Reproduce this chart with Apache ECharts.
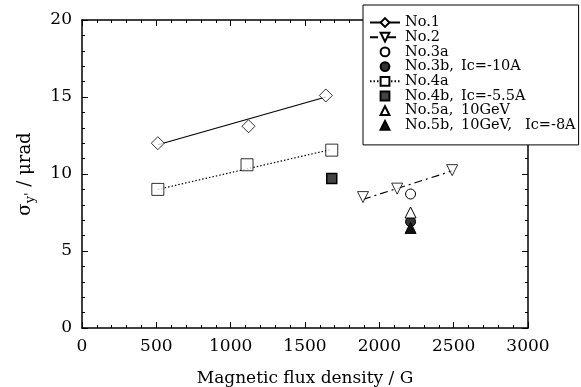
<!DOCTYPE html>
<html>
<head>
<meta charset="utf-8">
<script src="https://cdn.jsdelivr.net/npm/echarts@6/dist/echarts.min.js"></script>
<style>
  html, body { margin: 0; padding: 0; background: #fff; }
  #chart { width: 581px; height: 387px; }
</style>
</head>
<body>
<div id="chart"></div>
<script>
// values
const no1X = [510, 1120, 1640];
const no1Y = [12.0, 13.1, 15.1];
const no1FitX = [510, 1640];
const no1FitY = [11.9, 15.0];

const no2X = [1890, 2120, 2490];
const no2Y = [8.5, 9.05, 10.25];
const no2FitX = [1890, 2490];
const no2FitY = [8.35, 10.2];

const no3aX = [2210], no3aY = [8.7];
const no3bX = [2210], no3bY = [6.9];

const no4aX = [510, 1110, 1680];
const no4aY = [9.0, 10.6, 11.55];
const no4aFitX = [510, 1680];
const no4aFitY = [9.0, 11.6];

const no4bX = [1680], no4bY = [9.7];
const no5aX = [2210], no5aY = [7.5];
const no5bX = [2210], no5bY = [6.5];

const names = [
  "No.1", "No.2", "No.3a", "No.3b, Ic=-10A", "No.4a",
  "No.4b, Ic=-5.5A", "No.5a, 10GeV", "No.5b, 10GeV, Ic=-8A"
];

const pts = (xs, ys) => xs.map((x, i) => [x, ys[i]]);
const FONT = "DejaVu Serif";

// axis with inward ticks, used for all four sides
const axisBase = (pos, min, max, step, showLabel) => ({
  type: "value",
  position: pos,
  min: min,
  max: max,
  interval: step,
  axisLine: { show: true, onZero: false, lineStyle: { color: "#000", width: 1.5 } },
  axisTick: { show: true, inside: true, length: 6, lineStyle: { color: "#000", width: 1 } },
  minorTick: { show: true, splitNumber: 5, length: 3, lineStyle: { color: "#000", width: 1 } },
  splitLine: { show: false },
  minorSplitLine: { show: false },
  axisLabel: {
    show: showLabel, color: "#000", fontFamily: FONT, fontSize: 17, margin: 10,
    formatter: (v) => String(v),
  },
});

// open markers: white fill, thin black outline
const openStyle = { color: "#fff", borderColor: "#000", borderWidth: 1 };
// single points drawn as line series so the legend icon stays small
const single = (name, xs, ys, symbol, size, style) => ({
  name: name, type: "line", data: pts(xs, ys),
  symbol: symbol, symbolSize: size, showSymbol: true,
  itemStyle: style, lineStyle: { opacity: 0 }, z: 3,
});

const legendText = { fontFamily: FONT, fontSize: 14.5, color: "#000" };

const option = {
  backgroundColor: "#fff",
  animation: false,
  grid: { left: 82, right: 53, top: 20, bottom: 59, outerBoundsMode: "none" },
  legend: {
    data: names,
    orient: "vertical",
    left: 363,
    top: 5,
    padding: [10, 3, 12, 6],
    borderColor: "#000",
    borderWidth: 1,
    backgroundColor: "#fff",
    itemWidth: 30,
    itemHeight: 11,
    itemGap: -0.3,
    formatter: (name) => {
      const parts = name.split(", ");
      return parts
        .map((p, i) => (i < parts.length - 1 ? "{c" + i + "|" + p + ",}" : "{t|" + p + "}"))
        .join("");
    },
    textStyle: Object.assign({}, legendText, {
      rich: {
        c0: Object.assign({ width: 56 }, legendText),
        c1: Object.assign({ width: 64 }, legendText),
        t: Object.assign({}, legendText),
      },
    }),
  },
  xAxis: [
    Object.assign(axisBase("bottom", 0, 3000, 500, true), {
      name: "Magnetic flux density / G",
      nameLocation: "middle",
      nameGap: 42,
      nameTextStyle: { color: "#000", fontFamily: FONT, fontSize: 17 },
    }),
    axisBase("top", 0, 3000, 500, false),
  ],
  yAxis: [
    Object.assign(axisBase("left", 0, 20, 5, true), {
      name: "{a|σ}{s|y'}{a| / μrad}",
      nameLocation: "middle",
      nameGap: 45,
      nameRotate: 90,
      nameTextStyle: {
        color: "#000",
        fontFamily: FONT,
        fontSize: 18,
        rich: {
          a: { fontFamily: FONT, fontSize: 18, color: "#000", lineHeight: 24, verticalAlign: "middle" },
          s: { fontFamily: FONT, fontSize: 13, color: "#000", lineHeight: 24, verticalAlign: "bottom", padding: [10, 0, 0, 0] },
        },
      },
    }),
    axisBase("right", 0, 20, 5, false),
  ],
  series: [
    {
      name: "No.1", type: "line", data: pts(no1FitX, no1FitY),
      symbol: "diamond", showSymbol: false, symbolSize: 12,
      itemStyle: openStyle, lineStyle: { color: "#000", width: 1.2 },
    },
    {
      name: "No.1 pts", type: "scatter", data: pts(no1X, no1Y),
      symbol: "diamond", symbolSize: 13, itemStyle: openStyle, z: 3,
    },
    {
      name: "No.2", type: "line", data: pts(no2FitX, no2FitY),
      symbol: "triangle", symbolRotate: 180, showSymbol: false, symbolSize: 11,
      itemStyle: openStyle, lineStyle: { color: "#000", width: 1.2, type: [8, 4, 2, 4] },
    },
    {
      name: "No.2 pts", type: "scatter", data: pts(no2X, no2Y),
      symbol: "triangle", symbolRotate: 180, symbolSize: 11, itemStyle: openStyle, z: 3,
    },
    single("No.3a", no3aX, no3aY, "circle", 10, openStyle),
    single(names[3], no3bX, no3bY, "circle", 10, { color: "#333", borderColor: "#000", borderWidth: 1 }),
    {
      name: "No.4a", type: "line", data: pts(no4aFitX, no4aFitY),
      symbol: "rect", showSymbol: false, symbolSize: 11,
      itemStyle: openStyle, lineStyle: { color: "#000", width: 1.2, type: [1.5, 2] },
    },
    {
      name: "No.4a pts", type: "scatter", data: pts(no4aX, no4aY),
      symbol: "rect", symbolSize: 12, itemStyle: openStyle, z: 3,
    },
    single(names[5], no4bX, no4bY, "rect", 10, { color: "#444", borderColor: "#000", borderWidth: 1.5 }),
    single(names[6], no5aX, no5aY, "triangle", 11, openStyle),
    single(names[7], no5bX, no5bY, "triangle", 11, { color: "#111", borderColor: "#000", borderWidth: 1 }),
  ],
};

const chart = echarts.init(document.getElementById("chart"), null, { renderer: "canvas" });
chart.setOption(option);
</script>
</body>
</html>
